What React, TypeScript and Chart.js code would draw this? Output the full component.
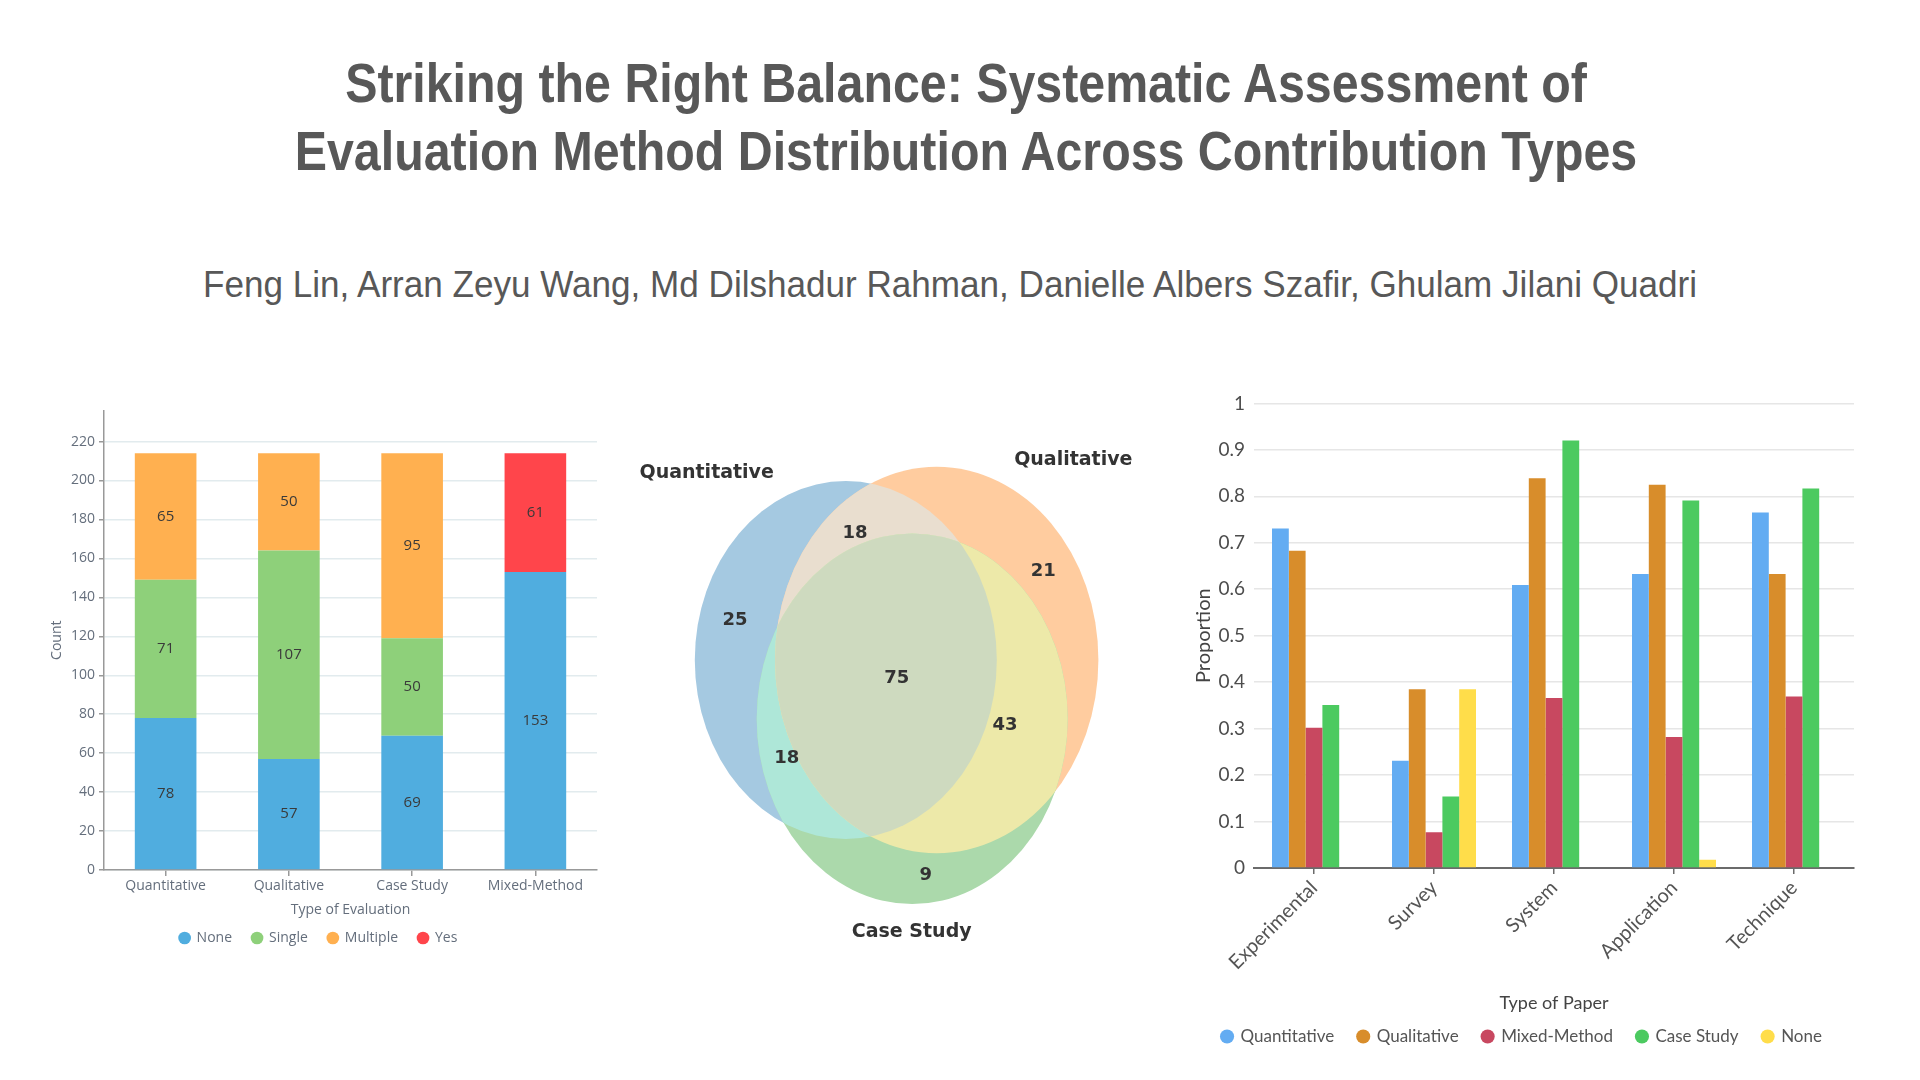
import React, { useEffect, useRef } from 'react';
import { Chart, registerables } from 'chart.js';

Chart.register(...registerables);

// ---------------- text ----------------
const titleLines = [
  'Striking the Right Balance: Systematic Assessment of',
  'Evaluation Method Distribution Across Contribution Types',
];
const authorLine =
  'Feng Lin, Arran Zeyu Wang, Md Dilshadur Rahman, Danielle Albers Szafir, Ghulam Jilani Quadri';

// ---------------- left: stacked counts ----------------
const evaluationTypes = ['Quantitative', 'Qualitative', 'Case Study', 'Mixed-Method'];
const countSeriesNames = ['None', 'Single', 'Multiple', 'Yes'];
const countNone = [78, 57, 69, 153];
const countSingle = [71, 107, 50, null];
const countMultiple = [65, 50, 95, null];
const countYes = [null, null, null, 61];
const countAxisMax = 236;
const countTickStep = 20;

// ---------------- middle: venn ----------------
const vennSetNames = ['Quantitative', 'Qualitative', 'Case Study'];
const vennRegionSets = [[0], [1], [2], [0, 1], [0, 2], [1, 2], [0, 1, 2]];
const vennRegionCounts = [25, 21, 9, 18, 18, 43, 75];
// diagram geometry (diagram units)
const vennEllipseX = [-0.542, 0.367, 0.122];
const vennEllipseY = [0.2, 0.2, -0.387];
const vennEllipseRx = [1.51, 1.617, 1.555];
const vennEllipseRy = [1.79, 1.933, 1.853];
const vennRegionLabelX = [-1.65, 1.433, 0.257, -0.45, -1.133, 1.05, -0.033];
const vennRegionLabelY = [0.6, 1.083, -1.95, 1.467, -0.783, -0.45, 0.017];
const vennSetLabelX = [-1.933, 1.733, 0.117];
const vennSetLabelY = [2.067, 2.2, -2.517];
const vennBaseColors = [
  [31, 119, 180],
  [255, 127, 14],
  [44, 160, 44],
];

// ---------------- right: proportions ----------------
const paperTypes = ['Experimental', 'Survey', 'System', 'Application', 'Technique'];
const propSeriesNames = ['Quantitative', 'Qualitative', 'Mixed-Method', 'Case Study', 'None'];
const propQuantitative = [0.731, 0.231, 0.609, 0.633, 0.765];
const propQualitative = [0.683, 0.385, 0.839, 0.825, 0.633];
const propMixed = [0.302, 0.077, 0.366, 0.282, 0.369];
const propCaseStudy = [0.351, 0.154, 0.92, 0.791, 0.817];
const propNone = [null, 0.385, null, 0.018, null];

// ---------------- helpers ----------------
function vennRegionColor(sets: number[]) {
  let mix: number[];
  if (sets.length === 1) {
    mix = vennBaseColors[sets[0]].map((v) => v / 255);
  } else {
    const k = sets.length === 2 ? 0.7 : 0.4;
    mix = [0, 1, 2].map((c) =>
      Math.min(1, k * sets.reduce((s, i) => s + vennBaseColors[i][c] / 255, 0))
    );
  }
  const a = 0.4;
  const rgb = mix.map((v) => Math.round(255 * (a * v + (1 - a))));
  return `rgb(${rgb.join(',')})`;
}

const stackLabelPlugin = {
  id: 'stackLabels',
  afterDatasetsDraw(chart: any) {
    const ctx = chart.ctx;
    ctx.save();
    ctx.font = '15px "Open Sans"';
    ctx.fillStyle = '#3a3a3a';
    ctx.textAlign = 'center';
    ctx.textBaseline = 'middle';
    chart.data.datasets.forEach((ds: any, i: number) => {
      const meta = chart.getDatasetMeta(i);
      meta.data.forEach((el: any, j: number) => {
        const v = ds.data[j];
        if (v == null) return;
        const p = el.getProps(['x', 'y', 'base'], true);
        ctx.fillText(String(v), p.x, (p.y + p.base) / 2);
      });
    });
    ctx.restore();
  },
};

const vennPlugin = {
  id: 'vennEllipses',
  beforeDatasetsDraw(chart: any) {
    const { ctx } = chart;
    const xs = chart.scales.x;
    const ys = chart.scales.y;
    const shapes = vennEllipseX.map((cx, i) => {
      const px = xs.getPixelForValue(cx);
      const py = ys.getPixelForValue(vennEllipseY[i]);
      const rx = Math.abs(xs.getPixelForValue(cx + vennEllipseRx[i]) - px);
      const ry = Math.abs(ys.getPixelForValue(vennEllipseY[i] + vennEllipseRy[i]) - py);
      return { px, py, rx, ry };
    });
    const path = (s: any) => {
      ctx.beginPath();
      ctx.ellipse(s.px, s.py, s.rx, s.ry, 0, 0, Math.PI * 2);
    };
    vennRegionSets.forEach((sets) => {
      ctx.save();
      sets.slice(0, -1).forEach((i) => {
        path(shapes[i]);
        ctx.clip();
      });
      path(shapes[sets[sets.length - 1]]);
      ctx.fillStyle = vennRegionColor(sets);
      ctx.fill();
      ctx.restore();
    });
  },
  afterDatasetsDraw(chart: any) {
    const ctx = chart.ctx;
    ctx.save();
    ctx.fillStyle = '#333333';
    ctx.textAlign = 'center';
    ctx.textBaseline = 'middle';
    const texts = [vennRegionCounts.map(String), vennSetNames];
    const fonts = ['bold 18px "DejaVu Sans"', 'bold 19px "DejaVu Sans"'];
    texts.forEach((list, d) => {
      ctx.font = fonts[d];
      chart.getDatasetMeta(d).data.forEach((el: any, j: number) => {
        ctx.fillText(list[j], el.x, el.y);
      });
    });
    ctx.restore();
  },
};

function ChartBox({ left, top, width, height, make }: any) {
  const ref = useRef<HTMLCanvasElement | null>(null);
  useEffect(() => {
    const chart = new Chart(ref.current as HTMLCanvasElement, make());
    return () => chart.destroy();
  }, []);
  return (
    <canvas
      ref={ref}
      width={width}
      height={height}
      style={{ position: 'absolute', left, top, width, height }}
    />
  );
}

const leftText = '#646e7c';
const leftFont = { family: '"Open Sans"', size: 14 };

function makeCountChart(): any {
  const colors = ['#50addf', '#8ed07a', '#ffb050', '#ff454b'];
  const series = [countNone, countSingle, countMultiple, countYes];
  return {
    type: 'bar',
    data: {
      labels: evaluationTypes,
      datasets: series.map((d, i) => ({
        label: countSeriesNames[i],
        data: d,
        backgroundColor: colors[i],
        borderWidth: 0,
        barPercentage: 0.625,
        categoryPercentage: 0.8,
      })),
    },
    options: {
      animation: false,
      responsive: false,
      devicePixelRatio: 1,
      layout: { padding: { top: 4, right: 13, bottom: 5, left: 0 } },
      plugins: {
        legend: {
          position: 'bottom',
          labels: {
            usePointStyle: true,
            pointStyle: 'circle',
            boxWidth: 10,
            boxHeight: 9,
            padding: 20,
            color: leftText,
            font: leftFont,
          },
        },
        tooltip: { enabled: false },
      },
      scales: {
        x: {
          stacked: true,
          grid: { drawOnChartArea: false, offset: false, tickLength: 6, tickColor: '#999', lineWidth: 1.5 },
          border: { color: '#999', width: 1.5 },
          ticks: { color: leftText, font: leftFont, padding: 2 },
          title: {
            display: true,
            text: 'Type of Evaluation',
            color: leftText,
            font: leftFont,
            padding: { top: 0, bottom: -7 },
          },
          afterFit: (s: any) => {
            s.height = 41;
          },
        },
        y: {
          stacked: true,
          min: 0,
          max: countAxisMax,
          ticks: { stepSize: countTickStep, includeBounds: false, color: leftText, font: leftFont, padding: 4 },
          grid: { color: '#e2ebee', lineWidth: 1.5, tickColor: '#999', tickLength: 5 },
          border: { color: '#999', width: 1.5 },
          title: { display: true, text: 'Count', color: leftText, font: leftFont, padding: { top: 9, bottom: 0 } },
          afterFit: (s: any) => {
            s.width = 64;
          },
        },
      },
    },
    plugins: [stackLabelPlugin],
  };
}

function makeVennChart(): any {
  return {
    type: 'scatter',
    data: {
      datasets: [
        {
          label: 'regions',
          data: vennRegionLabelX.map((x, i) => ({ x, y: vennRegionLabelY[i] })),
          pointRadius: 0,
        },
        {
          label: 'sets',
          data: vennSetLabelX.map((x, i) => ({ x, y: vennSetLabelY[i] })),
          pointRadius: 0,
        },
      ],
    },
    options: {
      animation: false,
      responsive: false,
      devicePixelRatio: 1,
      layout: { padding: 0 },
      plugins: { legend: { display: false }, tooltip: { enabled: false } },
      scales: {
        x: { type: 'linear', min: -2.8, max: 2.4, display: false },
        y: { type: 'linear', min: -2.8, max: 2.4, display: false },
      },
    },
    plugins: [vennPlugin],
  };
}

function makePropChart(): any {
  const colors = ['#63acf2', '#d88d2b', '#c84860', '#4cca60', '#ffdd4a'];
  const series = [propQuantitative, propQualitative, propMixed, propCaseStudy, propNone];
  return {
    type: 'bar',
    data: {
      labels: paperTypes,
      datasets: series.map((d, i) => ({
        label: propSeriesNames[i],
        data: d,
        backgroundColor: colors[i],
        borderWidth: 0,
        barPercentage: 1,
        categoryPercentage: 0.7,
      })),
    },
    options: {
      animation: false,
      responsive: false,
      devicePixelRatio: 1,
      layout: { padding: { top: 6, right: 6, bottom: 5, left: 0 } },
      plugins: {
        legend: {
          position: 'bottom',
          labels: {
            usePointStyle: true,
            pointStyle: 'circle',
            boxWidth: 10,
            boxHeight: 10,
            padding: 24,
            color: '#555',
            font: { family: 'Lato', size: 17 },
          },
        },
        tooltip: { enabled: false },
      },
      scales: {
        x: {
          grid: { drawOnChartArea: false, offset: false, tickLength: 6, tickColor: '#6b6b6b', lineWidth: 1.5 },
          border: { color: '#6b6b6b', width: 2 },
          ticks: { minRotation: 45, maxRotation: 45, color: '#555', font: { family: 'Lato', size: 20 }, padding: 2 },
          title: {
            display: true,
            text: 'Type of Paper',
            color: '#444',
            font: { family: 'Lato', size: 18 },
            padding: { top: 0, bottom: -10 },
          },
          afterFit: (s: any) => {
            s.height = 136;
          },
        },
        y: {
          min: 0,
          max: 1,
          ticks: {
            stepSize: 0.1,
            color: '#4d4d4d',
            font: { family: 'Lato', size: 19 },
            padding: 9,
            callback: (v: any) => String(Number(Number(v).toFixed(1))),
          },
          grid: { color: '#e6e6e6', lineWidth: 1.5, drawTicks: false },
          border: { display: false },
          title: {
            display: true,
            text: 'Proportion',
            color: '#444',
            font: { family: 'Lato', size: 20 },
            padding: { top: 2, bottom: 0 },
          },
          afterFit: (s: any) => {
            s.width = 64;
          },
        },
      },
    },
  };
}

export default function App() {
  const headColor = '#585858';
  return (
    <div
      style={{
        position: 'absolute',
        left: 0,
        top: 0,
        width: 1920,
        height: 1080,
        background: '#ffffff',
        overflow: 'hidden',
      }}
    >
      <div
        style={{
          position: 'absolute',
          left: 6,
          top: 49,
          width: 1920,
          textAlign: 'center',
          fontFamily: '"Liberation Sans", Arial, sans-serif',
          fontWeight: 'bold',
          fontSize: 56,
          lineHeight: '68px',
          color: headColor,
          transform: 'scaleX(0.863)',
          transformOrigin: 'center',
        }}
      >
        {titleLines.map((t) => (
          <div key={t} style={{ whiteSpace: 'pre' }}>
            {t}
          </div>
        ))}
      </div>
      <div
        style={{
          position: 'absolute',
          left: -10,
          top: 266,
          width: 1920,
          textAlign: 'center',
          fontFamily: '"Liberation Sans", Arial, sans-serif',
          fontSize: 37,
          lineHeight: '37px',
          color: headColor,
          whiteSpace: 'pre',
          transform: 'scaleX(0.948)',
          transformOrigin: 'center',
        }}
      >
        {authorLine}
      </div>
      <ChartBox left={40} top={398} width={570} height={562} make={makeCountChart} />
      <ChartBox left={620} top={440} width={520} height={520} make={makeVennChart} />
      <ChartBox left={1190} top={383} width={670} height={677} make={makePropChart} />
    </div>
  );
}
